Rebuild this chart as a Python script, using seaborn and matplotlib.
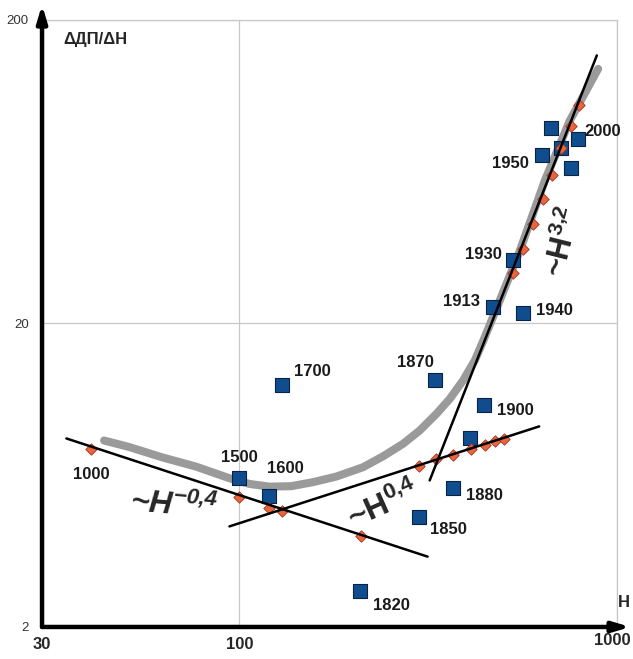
import matplotlib
matplotlib.use('Agg')
import matplotlib.pyplot as plt
import seaborn as sns
import pandas as pd

# Data (H vs dP/dH, log-log)
sq_years = ['1500', '1600', '1700', '1820', '1850', '1870', '1880', '', '1900',
            '1913', '1930', '1940', '1950', '', '', '2000', '']
sq_h = [100, 120, 130, 209, 298, 329, 367, 408, 444, 469, 530, 563, 632, 668, 710, 788, 755]
sq_v = [6.17, 5.42, 12.5, 2.62, 4.59, 13.0, 5.72, 8.42, 10.8, 22.6, 32.3, 21.6, 71.6, 87.8, 76.0, 80.8, 65.3]

dm_h = [40.5, 100, 120, 130, 210, 299, 331, 367, 410, 447, 475, 501,
        531, 564, 600, 635, 671, 710, 754, 794]
dm_v = [7.69, 5.35, 4.95, 4.81, 3.98, 6.76, 7.18, 7.35, 7.69, 7.98, 8.19, 8.32,
        29.3, 35.1, 42.4, 51.3, 61.5, 76.0, 89.8, 105]

trend_h = [43.8, 51.1, 62.5, 76.8, 94.1, 106.3, 120.1, 137.1, 156.5, 180.5, 212.4, 240,
           271.3, 300.2, 332.5, 360.6, 391.1, 420.2, 441.9, 489, 553, 644, 750, 891]
trend_v = [8.23, 7.83, 7.24, 6.75, 6.18, 5.92, 5.80, 5.82, 6.00, 6.26, 6.72, 7.30,
           8.03, 8.88, 10.08, 11.29, 12.99, 15.12, 17.5, 23.8, 34.8, 59.2, 93.3, 138]

fit_lo_h, fit_lo_v = [34.8, 315], [8.36, 3.41]
fit_mid_h, fit_mid_v = [94.1, 622], [4.29, 9.16]
fit_hi_h, fit_hi_v = [319, 884], [6.08, 152.8]

x_ticks = [30, 100, 1000]
y_ticks = [2, 20, 200]

# label offsets in pixels (layout only)
label_offsets = {'1000': (0, -25), '1500': (0, 21), '1600': (16, 27), '1700': (30, 14),
                 '1820': (31, -14), '1850': (30, -12), '1870': (-19, 18), '1880': (32, -7),
                 '1900': (31, -6), '1913': (-31, 6), '1930': (-30, 6), '1940': (32, 3),
                 '1950': (-31, -8), '2000': (25, 8)}

sns.set_style('white')
plt.rcParams['font.family'] = ['Liberation Sans', 'DejaVu Sans']
plt.rcParams['mathtext.default'] = 'regular'

fig = plt.figure(figsize=(6.33, 6.59), dpi=100)
ax = fig.add_axes([0.0664, 0.0486, 0.9084, 0.9211])
ax.set_xscale('log')
ax.set_yscale('log')
ax.set_xlim(30, 1000)
ax.set_ylim(2, 200)

df_sq = pd.DataFrame({'H': sq_h, 'v': sq_v, 'year': sq_years})
df_dm = pd.DataFrame({'H': dm_h, 'v': dm_v})

sns.lineplot(x=trend_h, y=trend_v, sort=False, estimator=None, ax=ax,
             color='#9a9a9a', lw=5.8, solid_capstyle='round', solid_joinstyle='round', zorder=2)
sns.scatterplot(data=df_sq, x='H', y='v', marker='s', s=92, color='#104d8e',
                edgecolor='#0a2244', linewidth=0.8, ax=ax, zorder=3)
sns.scatterplot(data=df_dm, x='H', y='v', marker='D', s=34, color='#e8663d',
                edgecolor='#a83020', linewidth=0.6, ax=ax, zorder=4)
for fh, fv in [(fit_lo_h, fit_lo_v), (fit_mid_h, fit_mid_v), (fit_hi_h, fit_hi_v)]:
    sns.lineplot(x=fh, y=fv, sort=False, estimator=None, ax=ax, color='black', lw=1.8, zorder=5)

# year labels
for _, r in df_sq.iterrows():
    if r['year']:
        ax.annotate(r['year'], (r['H'], r['v']), xytext=label_offsets[r['year']],
                    textcoords='offset pixels', ha='center', va='center',
                    fontsize=12, fontweight='bold', color='#1a1a1a', zorder=6)
ax.annotate('1000', (dm_h[0], dm_v[0]), xytext=label_offsets['1000'],
            textcoords='offset pixels', ha='center', va='center',
            fontsize=12, fontweight='bold', color='#1a1a1a', zorder=6)

# slope labels
ax.text(67, 5.0, '~H$^{-0{,}4}$', fontsize=23, fontweight='bold', style='italic',
        rotation=-5, ha='center', va='center', zorder=6)
ax.text(242, 5.0, '~H$^{0{,}4}$', fontsize=23, fontweight='bold',
        rotation=24, ha='center', va='center', zorder=6)
ax.text(723, 37, '~H$^{3{,}2}$', fontsize=22, fontweight='bold',
        rotation=76, ha='center', va='center', zorder=6)

# axes, grid, ticks
ax.set_xticks(x_ticks)
ax.set_xticklabels(['30', '100', ''], fontweight='bold', fontsize=12)
ax.annotate('1000', xy=(1000, 2), xytext=(-5, -14), textcoords='offset pixels',
            ha='center', va='center', fontsize=12, fontweight='bold', annotation_clip=False)
ax.set_yticks(y_ticks)
ax.set_yticklabels([str(t) for t in y_ticks], fontsize=9.5, color='#333333')
ax.minorticks_off()
ax.tick_params(axis='x', length=5, width=1, color='#999999', pad=2)
ax.tick_params(axis='y', length=6.5, width=1, color='#999999', pad=3)
ax.grid(True, color='#c8c8c8', lw=0.9)
for s in ['left', 'bottom']:
    ax.spines[s].set_visible(False)
for s in ['top', 'right']:
    ax.spines[s].set_color('#c8c8c8')
    ax.spines[s].set_linewidth(0.9)
ax.set_xlabel('')
ax.set_ylabel('')

arrow = dict(arrowstyle='-|>,head_length=1.0,head_width=0.3', lw=3.2, color='black',
             shrinkA=0, shrinkB=0)
ax.annotate('', xy=(0, 1.025), xytext=(0, 0), xycoords='axes fraction',
            arrowprops=arrow, annotation_clip=False, zorder=7)
ax.annotate('', xy=(1.023, 0), xytext=(0, 0), xycoords='axes fraction',
            arrowprops=arrow, annotation_clip=False, zorder=7)

ax.text(0.0365, 0.967, 'ΔДП/ΔН', transform=ax.transAxes, fontsize=12,
        fontweight='bold', ha='left', va='center')
ax.text(1.012, 0.04, 'Н', transform=ax.transAxes, fontsize=12,
        fontweight='bold', ha='center', va='center')

fig.savefig('out.png', dpi=100)
